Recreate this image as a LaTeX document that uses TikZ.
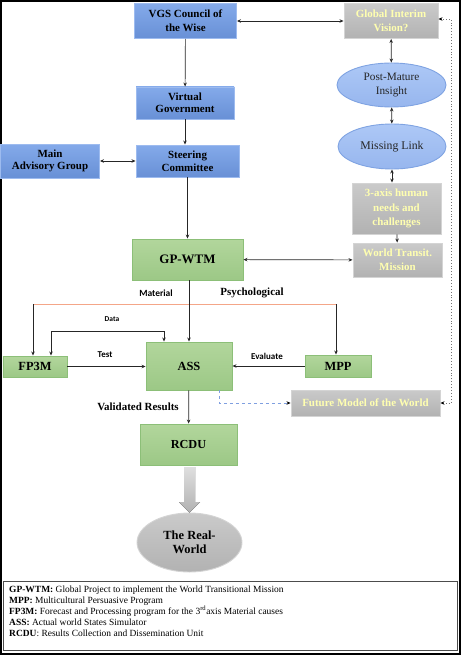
\documentclass[tikz,border=0pt]{standalone}
\usepackage{fontspec}
\setmainfont{Liberation Serif}
\newfontfamily\calfont{Carlito}
\usetikzlibrary{arrows.meta,shapes.geometric}
\definecolor{btop}{HTML}{84AAEA}
\definecolor{bbot}{HTML}{6890D6}
\definecolor{bbord}{HTML}{9DBBEF}
\definecolor{gtop}{HTML}{B2D69C}
\definecolor{gbot}{HTML}{9CC886}
\definecolor{gbord}{HTML}{8CBF78}
\definecolor{ytop}{HTML}{CACACA}
\definecolor{ybot}{HTML}{B2B2B2}
\definecolor{ybord}{HTML}{D4D4D4}
\definecolor{etop}{HTML}{ADC8F6}
\definecolor{ebot}{HTML}{97B6EE}
\definecolor{ebord}{HTML}{7FA3E2}
\definecolor{ytext}{HTML}{FFFFB0}
\definecolor{orline}{HTML}{F4A688}
\definecolor{dblue}{HTML}{7F9FE0}
\begin{document}
\begin{tikzpicture}[x=1bp,y=-1bp,
  box/.style={rectangle, draw, line width=0.9bp, inner sep=1bp, align=center,
    font=\fontsize{11}{14}\selectfont\bfseries},
  bluebox/.style={box, draw=bbord, top color=btop, bottom color=bbot},
  greenbox/.style={box, draw=gbord, top color=gtop, bottom color=gbot},
  graybox/.style={box, draw=ybord, top color=ytop, bottom color=ybot, text=ytext},
  ell/.style={ellipse, draw=ebord, line width=0.9bp, top color=etop, bottom color=ebot,
    inner sep=0pt, align=center, font=\fontsize{11.3}{14.5}\selectfont, text=black!85},
  conn/.style={line width=0.7bp, draw=black!85},
  arr/.style={conn, -{Stealth[length=4bp,width=3.5bp]}},
  darr/.style={conn, {Stealth[length=4bp,width=3.5bp]}-{Stealth[length=4bp,width=3.5bp]}},
  sanslab/.style={font=\calfont\bfseries\fontsize{9.5}{10}\selectfont, inner sep=0pt},
  seriflab/.style={font=\bfseries\fontsize{11}{12}\selectfont, inner sep=0pt}
]
\useasboundingbox (0,0) rectangle (461,655);
\draw[line width=1.6bp] (1,1) rectangle (460,654);

% top row
\node[bluebox, minimum width=102bp, minimum height=35bp, font=\fontsize{11}{14.5}\selectfont\bfseries] (vgs) at (185.5,21) {VGS Council of\\the Wise};
\node[graybox, minimum width=94bp, minimum height=35bp, font=\fontsize{11}{14.5}\selectfont\bfseries] (giv) at (391,21) {Global Interim\\Vision?};
\node[bluebox, minimum width=98bp, minimum height=32bp, font=\fontsize{11}{12.5}\selectfont\bfseries] (vg) at (185,103) {Virtual\\Government};
\node[ell, minimum width=109bp, minimum height=44bp] (pmi) at (391.5,85) {Post-Mature\\Insight};
\node[ell, minimum width=108bp, minimum height=45bp, font=\fontsize{11.8}{14.5}\selectfont] (ml) at (392,146.5) {Missing Link};
\node[bluebox, minimum width=99bp, minimum height=34bp, font=\fontsize{11}{12.5}\selectfont\bfseries] (mag) at (50,161) {Main\\Advisory Group};
\node[bluebox, minimum width=103bp, minimum height=32bp, font=\fontsize{11}{13}\selectfont\bfseries] (sc) at (187.5,161) {Steering\\Committee};
\node[graybox, minimum width=89bp, minimum height=51bp, font=\fontsize{11}{14.5}\selectfont\bfseries] (axis) at (396.5,208.5) {3-axis human\\needs and\\challenges};
\node[graybox, minimum width=89bp, minimum height=34bp, font=\fontsize{11}{14.5}\selectfont\bfseries] (wtm) at (397.5,260) {World Transit.\\Mission};
\node[greenbox, minimum width=111bp, minimum height=41bp, font=\fontsize{13}{14}\selectfont\bfseries] (gp) at (187.5,259.5) {GP-WTM};
\node[greenbox, minimum width=64bp, minimum height=21bp, font=\fontsize{12.5}{13}\selectfont\bfseries] (fp) at (35,366.5) {FP3M};
\node[greenbox, minimum width=86bp, minimum height=48bp, font=\fontsize{12.5}{13}\selectfont\bfseries] (ass) at (189,366) {ASS};
\node[greenbox, minimum width=66bp, minimum height=22bp, font=\fontsize{12.5}{13}\selectfont\bfseries] (mpp) at (338,366) {MPP};
\node[graybox, minimum width=149bp, minimum height=26bp, font=\fontsize{11}{13}\selectfont\bfseries] (fmw) at (365.5,403) {Future Model of the World};
\node[greenbox, minimum width=97bp, minimum height=41bp, font=\fontsize{12.3}{13}\selectfont\bfseries] (rcdu) at (188.5,444.5) {RCDU};
\node[ellipse, draw=ybord, line width=0.9bp, top color=ytop, bottom color=ybot, inner sep=0pt, align=center,
  font=\fontsize{12.5}{14}\selectfont\bfseries, minimum width=105bp, minimum height=59bp] (rw) at (189.5,542.5) {The Real-\\World};

% connectors top
\draw[darr] (vgs) -- (giv);
\draw[arr] (vgs) -- (vg);
\draw[arr] (vg.south) -- (vg.south |- sc.north);
\draw[darr] (mag) -- (sc);
\draw[arr] (sc) -- (gp);
\draw[darr] (gp) -- (wtm);
\draw[darr] (giv) -- (pmi);
\draw[darr] (pmi) -- (ml);
\draw[darr] (ml.south) -- (ml.south |- axis.north);
\draw[arr] (axis) -- (wtm);

% material / psychological
\coordinate (ol) at (33,304);
\coordinate (or) at (336,304);
\draw[orline, line width=0.9bp] (ol) -- (or);
\draw[arr] (ol) -- (ol |- fp.north);
\draw[arr] (or) -- (or |- mpp.north);
\draw[arr] (ass.north |- gp.south) -- (ass.north);
\node[sanslab] (lmat) at (156,293) {Material};
\node[seriflab] (lpsy) at (252,293) {Psychological};

% data
\coordinate (d1) at (164,331);
\coordinate (d2) at (51,331);
\draw[darr] (d2 |- fp.north) -- (d2) -- (d1) -- (d1 |- ass.north);
\node[sanslab, font=\calfont\bfseries\fontsize{7.5}{8}\selectfont] (ldata) at (112,319) {Data};

% test / evaluate
\draw[arr] (fp) -- (fp -| ass.west);
\node[sanslab, font=\calfont\bfseries\fontsize{9}{10}\selectfont] (ltest) at (105,355) {Test};
\draw[arr] (mpp) -- (mpp -| ass.east);
\node[sanslab, font=\calfont\bfseries\fontsize{9}{10}\selectfont] (leval) at (267,356) {Evaluate};

% future model
\coordinate (fb) at (219,390);
\draw[dblue, dashed, line width=0.7bp, -{Stealth[length=4bp,width=3.5bp,color=black]}] (fb) |- (fmw.west);
\coordinate (dc) at (451,19);
\draw[black!55, dotted, line width=0.9bp, {Stealth[length=4bp,width=3.5bp,color=black]}-{Stealth[length=4bp,width=3.5bp,color=black]}]
  (fmw.east) -- (fmw.east -| dc) -- (dc) -- (dc -| giv.east);

% results
\draw[arr] (ass) -- (rcdu);
\node[seriflab] (lval) at (138,407) {Validated Results};

% block arrow
\fill[top color=ytop!60!white, bottom color=ybot] (184,467) -- (195,467) -- (195,502) -- (200,502) -- (189.5,512.5) -- (179,502) -- (184,502) -- cycle;

% legend
\node[draw=black!70, line width=0.8bp, minimum width=454bp, minimum height=69bp, anchor=north west, inner sep=0pt] (leg) at (3,581) {};
\node[anchor=north west, align=left, inner sep=0pt, font=\fontsize{9.5}{11}\selectfont] (legtxt) at (9,586)
{\textbf{GP-WTM:} Global Project to implement the World Transitional Mission\\
\textbf{MPP:} Multicultural Persuasive Program\\
\textbf{FP3M:} Forecast and Processing program for the 3\textsuperscript{rd}axis Material causes\\
\textbf{ASS:} Actual world States Simulator\\
\textbf{RCDU}: Results Collection and Dissemination Unit};
\end{tikzpicture}
\end{document}
